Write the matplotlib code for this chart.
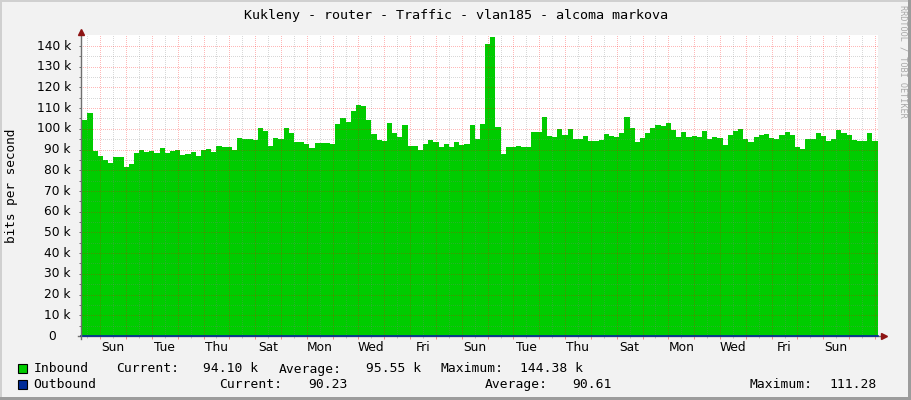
import matplotlib
matplotlib.use("Agg")
import matplotlib.pyplot as plt
import matplotlib.transforms as mtransforms
from matplotlib.patches import Rectangle
import numpy as np

W, H = 911, 400

title = "Kukleny - router - Traffic - vlan185 - alcoma markova"
y_axis_label = "bits per second"
watermark = "RRDTOOL / TOBI OETIKER"

# Inbound traffic in kbit/s, one value per consolidation step (first step is partial)
inbound = [
    91.7, 104.3, 107.5, 89.3, 86.9, 85.0, 83.7, 86.3, 86.3, 81.8,
    83.1, 88.5, 89.8, 89.0, 89.3, 88.2, 90.6, 88.5, 89.3, 89.8,
    87.6, 87.9, 88.8, 87.1, 89.8, 90.3, 88.9, 91.7, 91.3, 91.3,
    90.0, 95.6, 95.1, 95.1, 94.6, 100.4, 99.1, 91.9, 95.6, 95.1,
    100.4, 98.0, 93.7, 93.7, 92.7, 90.9, 93.0, 93.4, 93.4, 92.7,
    102.4, 105.1, 103.3, 108.6, 111.5, 111.1, 104.3, 97.5, 94.6, 94.2,
    102.8, 98.0, 96.1, 101.9, 91.7, 91.7, 89.8, 92.7, 94.6, 93.5,
    91.3, 92.7, 91.3, 93.7, 92.4, 92.7, 101.9, 95.1, 102.4, 141.0,
    144.38, 100.9, 87.9, 91.1, 91.1, 91.7, 91.3, 91.3, 98.5, 98.5,
    105.7, 96.6, 96.1, 99.9, 97.1, 99.9, 95.1, 95.1, 96.6, 94.2,
    94.2, 94.6, 97.5, 96.6, 96.1, 98.0, 105.7, 100.4, 93.7, 95.6,
    98.0, 100.4, 101.9, 101.4, 102.8, 99.5, 96.1, 98.5, 96.1, 96.6,
    96.1, 99.0, 95.1, 96.1, 95.6, 92.4, 97.1, 99.1, 100.0, 95.1,
    93.7, 96.1, 97.1, 97.5, 95.6, 95.1, 97.1, 98.5, 97.1, 91.3,
    90.3, 95.1, 95.1, 98.0, 96.6, 94.2, 95.1, 99.5, 98.0, 97.1,
    94.6, 94.2, 94.2, 98.0, 94.1,
]
# Outbound traffic in kbit/s (about 90 bit/s -> flat at the bottom)
outbound = [0.09061]

# time axis in days relative to the first Sunday 00:00
t_start = -0.75
first_step_edge = -0.7
step_days = 0.2

day_labels = ["Sun", "Tue", "Thu", "Sat", "Mon", "Wed", "Fri", "Sun",
              "Tue", "Thu", "Sat", "Mon", "Wed", "Fri", "Sun"]
y_major = list(range(0, 141, 10))
y_minor = list(range(5, 140, 10))
y_tick_labels = ["0"] + [f"{v} k" for v in range(10, 141, 10)]

legend_in = ["Inbound", "Current:", "94.10 k", "Average:", "95.55 k", "Maximum:", "144.38 k"]
legend_out = ["Outbound", "Current:", "90.23", "Average:", "90.61", "Maximum:", "111.28"]

GREEN = "#00CC00"
BLUE = "#002A97"
BG = "#F2F2F2"
ARROW = "#8E1414"
AXIS = "#707070"

edges = np.concatenate([[t_start], first_step_edge + step_days * np.arange(len(inbound))])
x_end = edges[-1]
y_top = 145.3

fig = plt.figure(figsize=(W / 100, H / 100), dpi=100, facecolor=BG)

ax_left, ax_right, ax_topp, ax_bot = 80.9, 877.5, 35.0, 336.0
ax = fig.add_axes([ax_left / W, 1 - ax_bot / H, (ax_right - ax_left) / W, (ax_bot - ax_topp) / H])
ax.set_facecolor("white")
ax.set_xlim(t_start, x_end)
ax.set_ylim(0, y_top)
for s in ax.spines.values():
    s.set_visible(False)

dx = (x_end - t_start) / (ax_right - ax_left)   # days per pixel
dy = y_top / (ax_bot - ax_topp)                  # k per pixel

ax.stairs(inbound, edges, fill=True, color=GREEN, lw=0, zorder=1)
ax.plot([edges[0], edges[-1]], [outbound[0], outbound[0]], color=BLUE, lw=1.2,
        clip_on=False, zorder=3)

# ticks (labels drawn separately)
ax.set_xticks(np.arange(0, 31, 1))
ax.set_xticks(np.arange(-0.5, 30.1, 1), minor=True)
ax.set_yticks(y_major)
ax.set_yticks(y_minor, minor=True)
ax.tick_params(labelbottom=False, labelleft=False)
ax.tick_params(axis="x", which="major", length=2.2, width=0.72, color=(0.92, 0.55, 0.55))
ax.tick_params(axis="x", which="minor", length=1.5, width=0.72, color=(0.75, 0.75, 0.75))
ax.tick_params(axis="y", which="both", length=1.6, width=0.72, color=AXIS)

# dotted grid drawn on top of the area
dots = (0, (1, 2))
for xv in np.arange(0, 31, 1):
    ax.axvline(xv, color=(1, 0, 0, 0.28), lw=0.72, linestyle=dots, zorder=2.5, antialiased=False)
for xv in np.arange(-0.5, 30.1, 1):
    ax.axvline(xv, color=(0.5, 0.5, 0.5, 0.3), lw=0.72, linestyle=dots, zorder=2.5, antialiased=False)
for yv in y_major[1:]:
    ax.axhline(yv, color=(1, 0, 0, 0.28), lw=0.72, linestyle=dots, zorder=2.5, antialiased=False)
for yv in y_minor:
    ax.axhline(yv, color=(0.5, 0.5, 0.5, 0.3), lw=0.72, linestyle=dots, zorder=2.5, antialiased=False)

# axis lines with arrows
ax.plot([t_start, t_start], [-3 * dy, y_top + 2 * dy], color=AXIS, lw=1.0, clip_on=False, zorder=4)
ax.plot([t_start - 3 * dx, x_end + 4 * dx], [0, 0], color=AXIS, lw=1.0, clip_on=False, zorder=2.9)
ax.plot([t_start], [y_top + 3.5 * dy], marker="^", ms=5, color=ARROW, clip_on=False, zorder=5)
ax.plot([x_end + 6.5 * dx], [0], marker=">", ms=5, color=ARROW, clip_on=False, zorder=5)

# x labels
tx = mtransforms.blended_transform_factory(ax.transData, fig.transFigure)
for i, lab in enumerate(day_labels):
    ax.text(0.5 + 2 * i, 1 - 351 / H, lab, transform=tx, ha="center", va="baseline",
            fontsize=8.8, family="DejaVu Sans", color="black")

# y labels
ty = mtransforms.offset_copy(mtransforms.blended_transform_factory(fig.transFigure, ax.transData),
                             fig=fig, x=0, y=-3.6, units="dots")
for v, lab in zip(y_major, y_tick_labels):
    xr = 71 if v else 56
    ax.text(xr / W, v, lab, transform=ty, ha="right", va="baseline",
            fontsize=8.8, family="DejaVu Sans", color="black")

fig.text(11.2 / W, 1 - 186 / H, y_axis_label, rotation=90, ha="center", va="center",
         fontsize=9.2, family="DejaVu Sans Mono", color="black")

fig.text(455.5 / W, 1 - 19 / H, title, ha="center", va="baseline",
         fontsize=9.6, family="DejaVu Sans Mono", color="black")

fig.text(902.7 / W, 1 - 61 / H, watermark, rotation=-90, ha="center", va="center",
         fontsize=6.1, family="DejaVu Sans Mono", color="#A8A8A8")

# legend
def px_rect(x, y, w, h, fc, ec="none", lw=0):
    fig.add_artist(Rectangle((x / W, 1 - (y + h) / H), w / W, h / H, transform=fig.transFigure,
                             facecolor=fc, edgecolor=ec, linewidth=lw))

px_rect(17.5, 363.8, 9.2, 9.0, GREEN, "black", 0.8)
px_rect(17.5, 379.6, 9.2, 9.0, BLUE, "black", 0.8)

row1 = [(33.7, "left"), (116, "left"), (258.6, "right"), (279, "left"), (421, "right"),
        (440.5, "left"), (583, "right")]
row2 = [(33.7, "left"), (219.6, "left"), (347.5, "right"), (485, "left"), (612, "right"),
        (749.6, "left"), (877, "right")]
for (x, ha), s in zip(row1, legend_in):
    fig.text(x / W, 1 - 372.5 / H, s, ha=ha, va="baseline", fontsize=9.4,
             family="DejaVu Sans Mono", color="black")
for (x, ha), s in zip(row2, legend_out):
    fig.text(x / W, 1 - 388.3 / H, s, ha=ha, va="baseline", fontsize=9.4,
             family="DejaVu Sans Mono", color="black")

# 3D frame
px_rect(0, 0, W, 2, "#D0D0D0")
px_rect(0, 0, 2, H, "#D0D0D0")
px_rect(W - 3, 0, 3, H, "#9C9C9C")
px_rect(0, H - 3, W, 3, "#9C9C9C")

fig.savefig("out.png", dpi=100, facecolor=BG)
